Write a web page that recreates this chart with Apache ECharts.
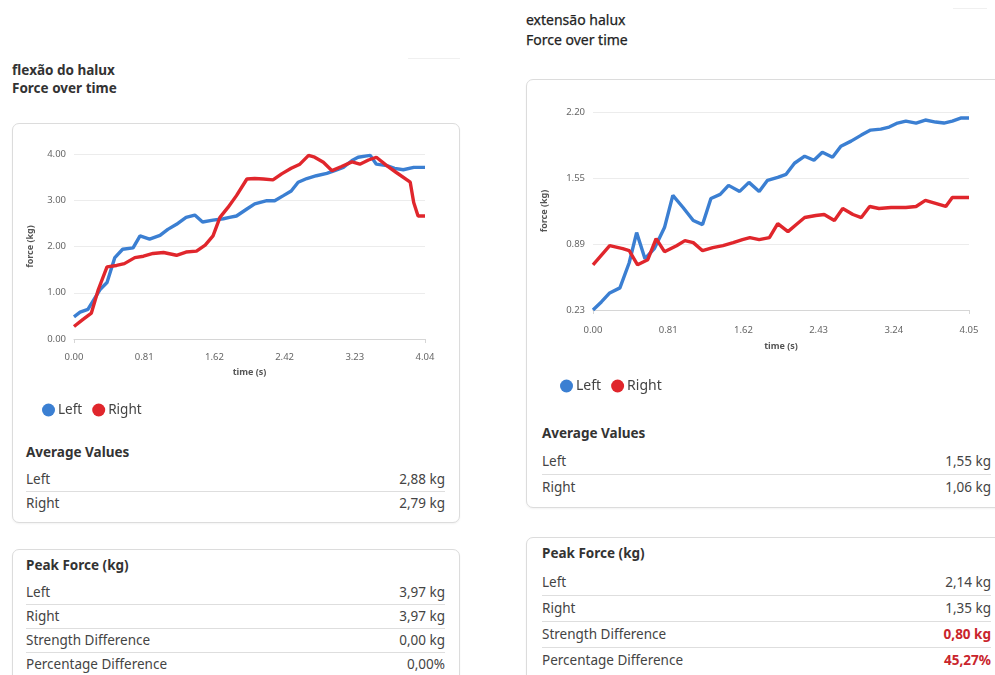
<!DOCTYPE html>
<html>
<head>
<meta charset="utf-8">
<script src="https://cdn.jsdelivr.net/npm/echarts@6/dist/echarts.min.js"></script>
<style>
  html, body { margin: 0; padding: 0; background: #fff; }
  body { width: 995px; height: 675px; position: relative; overflow: hidden; font-family: "Noto Sans", "Open Sans", sans-serif; color: #3a3a3a; }
  .abs { position: absolute; }
  .title { position: absolute; font-size: 13.5px; font-weight: 700; color: #333; line-height: 18px; white-space: nowrap; }
  .title.thin { font-weight: 400; font-size: 14px; color: #222; -webkit-text-stroke: 0.25px #222; }
  .card { position: absolute; border: 1px solid #dcdcdc; border-radius: 7px; background: #fff; box-shadow: 0 1px 2px rgba(0,0,0,0.05); }
  .sec { position: absolute; font-size: 13.5px; font-weight: 700; color: #333; line-height: 18px; white-space: nowrap; }
  .row { position: absolute; font-size: 13.5px; color: #444; line-height: 18px; white-space: nowrap; }
  .val { position: absolute; font-size: 13.5px; color: #444; line-height: 18px; white-space: nowrap; text-align: right; }
  .val.red { color: #c9252c; font-weight: 700; }
  .sep { position: absolute; height: 1px; background: #dedede; }
</style>
</head>
<body>
<script>
// ---------- DATA ----------
// Chart 1: flexão do halux
const c1LeftTime  = [0.00,0.07,0.16,0.30,0.38,0.47,0.56,0.68,0.76,0.87,0.99,1.08,1.18,1.29,1.39,1.48,1.60,1.72,1.79,1.87,1.99,2.08,2.22,2.31,2.41,2.50,2.58,2.68,2.79,2.91,3.00,3.10,3.20,3.27,3.37,3.41,3.48,3.60,3.69,3.79,3.91,4.04];
const c1LeftForce = [0.48,0.58,0.64,1.07,1.22,1.76,1.94,1.97,2.23,2.16,2.24,2.37,2.48,2.63,2.68,2.53,2.57,2.60,2.63,2.66,2.81,2.92,2.99,2.99,3.10,3.20,3.39,3.47,3.53,3.58,3.64,3.71,3.86,3.93,3.96,3.97,3.78,3.75,3.69,3.66,3.71,3.71];
const c1RightTime  = [0.00,0.10,0.20,0.28,0.38,0.49,0.58,0.70,0.80,0.91,1.03,1.18,1.29,1.41,1.51,1.60,1.68,1.77,1.87,1.99,2.08,2.18,2.29,2.39,2.50,2.60,2.70,2.77,2.87,2.97,3.08,3.20,3.29,3.39,3.48,3.60,3.71,3.87,3.91,3.96,4.04];
const c1RightForce = [0.27,0.42,0.56,1.07,1.56,1.59,1.63,1.76,1.79,1.85,1.87,1.81,1.88,1.90,2.03,2.23,2.63,2.84,3.10,3.46,3.47,3.46,3.44,3.57,3.69,3.78,3.97,3.93,3.82,3.64,3.73,3.83,3.78,3.87,3.93,3.75,3.60,3.39,2.95,2.66,2.66];
const c1XTicks = ['0.00','0.81','1.62','2.42','3.23','4.04'];
const c1YTicks = ['0.00','1.00','2.00','3.00','4.00'];

// Chart 2: extensão halux
const c2LeftTime  = [0.00,0.09,0.18,0.29,0.39,0.47,0.56,0.66,0.77,0.86,0.97,1.08,1.18,1.27,1.37,1.46,1.58,1.68,1.79,1.88,1.99,2.08,2.17,2.28,2.38,2.47,2.58,2.67,2.78,2.89,2.99,3.10,3.19,3.28,3.37,3.48,3.58,3.69,3.78,3.87,3.96,4.05];
const c2LeftForce = [0.23,0.31,0.40,0.45,0.70,1.00,0.74,0.84,1.05,1.37,1.25,1.12,1.08,1.34,1.38,1.47,1.41,1.50,1.41,1.52,1.55,1.58,1.69,1.76,1.72,1.80,1.75,1.86,1.91,1.97,2.02,2.03,2.05,2.09,2.11,2.09,2.12,2.10,2.09,2.11,2.14,2.14];
const c2RightTime  = [0.00,0.18,0.32,0.39,0.48,0.59,0.68,0.77,0.90,0.99,1.08,1.18,1.29,1.40,1.51,1.61,1.69,1.79,1.90,1.99,2.10,2.19,2.28,2.40,2.49,2.60,2.69,2.80,2.89,2.98,3.08,3.21,3.37,3.48,3.58,3.69,3.80,3.87,4.05];
const c2RightForce = [0.68,0.87,0.84,0.82,0.68,0.73,0.94,0.81,0.87,0.92,0.90,0.82,0.85,0.87,0.90,0.93,0.95,0.93,0.95,1.09,1.01,1.08,1.15,1.17,1.18,1.12,1.24,1.18,1.15,1.26,1.24,1.25,1.25,1.26,1.32,1.29,1.26,1.35,1.35];
const c2XTicks = ['0.00','0.81','1.62','2.43','3.24','4.05'];
const c2YTicks = ['0.23','0.89','1.55','2.20'];

const seriesNames = ['Left', 'Right'];

const c1Avg  = [['Left','2,88 kg'],['Right','2,79 kg']];
const c1Peak = [['Left','3,97 kg'],['Right','3,97 kg'],['Strength Difference','0,00 kg'],['Percentage Difference','0,00%']];
const c2Avg  = [['Left','1,55 kg'],['Right','1,06 kg']];
const c2Peak = [['Left','2,14 kg'],['Right','1,35 kg'],['Strength Difference','0,80 kg'],['Percentage Difference','45,27%']];
const c2PeakRed = [false, false, true, true];

// ---------- LAYOUT ----------
const BLUE = '#3b7fd2', RED = '#e0262c';

function el(cls, css, text) {
  const d = document.createElement('div');
  d.className = cls;
  Object.assign(d.style, css);
  if (text !== undefined) d.textContent = text;
  document.body.appendChild(d);
  return d;
}

// faint remnants at top
el('abs', {left:'408px', top:'58px', width:'52px', height:'1px', background:'#f0f0f0'});
el('abs', {left:'953px', top:'8px', width:'34px', height:'1px', background:'#f0f0f0'});

// titles
el('title', {left:'12px', top:'61px'}, 'flexão do halux');
el('title', {left:'12px', top:'79px'}, 'Force over time');
el('title thin', {left:'526px', top:'11px'}, 'extensão halux');
el('title thin', {left:'526px', top:'31px'}, 'Force over time');

// cards
el('card', {left:'12px', top:'123px', width:'446px', height:'398px'});
el('card', {left:'12px', top:'549px', width:'446px', height:'160px'});
el('card', {left:'526px', top:'79px', width:'490px', height:'427px'});
el('card', {left:'526px', top:'537px', width:'490px', height:'170px'});

function table(x0, x1, titleY, title, rows, rowYs, sepYs, redFlags) {
  el('sec', {left: x0+'px', top: (titleY-9)+'px'}, title);
  rows.forEach((r, i) => {
    el('row', {left: x0+'px', top: (rowYs[i]-9)+'px'}, r[0]);
    el('val' + (redFlags && redFlags[i] ? ' red' : ''), {right: (995-x1)+'px', top: (rowYs[i]-9)+'px'}, r[1]);
  });
  sepYs.forEach(y => el('sep', {left: x0+'px', top: y+'px', width: (x1-x0)+'px'}));
}

table(26, 445, 452, 'Average Values', c1Avg, [479, 503], [491]);
table(26, 445, 565, 'Peak Force (kg)', c1Peak, [592, 616, 640, 664], [604, 628, 652]);
table(542, 991, 433, 'Average Values', c2Avg, [461, 487], [474]);
table(542, 991, 553, 'Peak Force (kg)', c2Peak, [582, 608, 634, 660], [595, 621, 647], c2PeakRed);

// ---------- CHARTS ----------
function zip(t, v) { return t.map((x, i) => [x, v[i]]); }

function makeChart(box, cfg) {
  const d = el('abs', {left: box.x+'px', top: box.y+'px', width: box.w+'px', height: box.h+'px'});
  const chart = echarts.init(d, null, {renderer: 'canvas'});
  const xMax = parseFloat(cfg.xTicks[cfg.xTicks.length-1]);
  const xInt = xMax / (cfg.xTicks.length - 1);
  const yMin = parseFloat(cfg.yTicks[0]);
  const yMax = parseFloat(cfg.yTicks[cfg.yTicks.length-1]);
  const yInt = (yMax - yMin) / (cfg.yTicks.length - 1);
  chart.setOption({
    animation: false,
    grid: cfg.grid,
    legend: {
      data: seriesNames.map(n => ({name: n, icon: 'circle'})),
      left: cfg.legend.left, top: cfg.legend.top,
      itemWidth: 13, itemHeight: 13, itemGap: 10,
      textStyle: {fontSize: cfg.legendFont, color: '#444', fontFamily: 'Noto Sans', padding: [0,0,0,-2]}
    },
    xAxis: {
      type: 'value', min: 0, max: xMax, interval: xInt,
      name: 'time (s)', nameLocation: 'middle', nameGap: cfg.xNameGap,
      nameTextStyle: {fontSize: 9, fontWeight: 'bold', color: '#555', fontFamily: 'Noto Sans'},
      axisLine: {show: true, lineStyle: {color: '#d6d6d6', width: 1}},
      axisTick: {show: true, length: 4, lineStyle: {color: '#d6d6d6'}, customValues: [0, xMax]},
      splitLine: {show: false},
      axisLabel: {fontSize: 9.5, color: '#666', margin: cfg.xLabelMargin, fontFamily: 'Noto Sans',
        formatter: v => cfg.xTicks[Math.round(v / xInt)] ?? ''}
    },
    yAxis: {
      type: 'value', min: yMin, max: yMax, interval: yInt,
      name: 'force (kg)', nameLocation: 'middle', nameGap: cfg.yNameGap, nameRotate: 90,
      nameTextStyle: {fontSize: 9, fontWeight: 'bold', color: '#555', fontFamily: 'Noto Sans'},
      axisLine: {show: false}, axisTick: {show: false},
      splitLine: {show: true, lineStyle: {color: '#ececec', width: 1}},
      axisLabel: {fontSize: 9.5, color: '#666', margin: 8, fontFamily: 'Noto Sans',
        formatter: v => cfg.yTicks[Math.round((v - yMin) / yInt)] ?? ''}
    },
    series: [
      {name: 'Left', type: 'line', data: zip(cfg.lt, cfg.lv), showSymbol: false, symbol: 'circle',
        lineStyle: {color: BLUE, width: 3.4}, itemStyle: {color: BLUE}, z: 2},
      {name: 'Right', type: 'line', data: zip(cfg.rt, cfg.rv), showSymbol: false, symbol: 'circle',
        lineStyle: {color: RED, width: 3.4}, itemStyle: {color: RED}, z: 3}
    ]
  });
}

makeChart({x: 12, y: 123, w: 447, h: 302}, {
  grid: {left: 62, right: 34, top: 31, bottom: 86},
  legend: {left: 25, top: 275}, legendFont: 13.5,
  xNameGap: 29, xLabelMargin: 13, yNameGap: 39,
  xTicks: c1XTicks, yTicks: c1YTicks,
  lt: c1LeftTime, lv: c1LeftForce, rt: c1RightTime, rv: c1RightForce
});

makeChart({x: 526, y: 79, w: 469, h: 320}, {
  grid: {left: 67, right: 26, top: 33, bottom: 89},
  legend: {left: 29, top: 295}, legendFont: 14,
  xNameGap: 32, xLabelMargin: 15, yNameGap: 44,
  xTicks: c2XTicks, yTicks: c2YTicks,
  lt: c2LeftTime, lv: c2LeftForce, rt: c2RightTime, rv: c2RightForce
});
</script>
</body>
</html>
